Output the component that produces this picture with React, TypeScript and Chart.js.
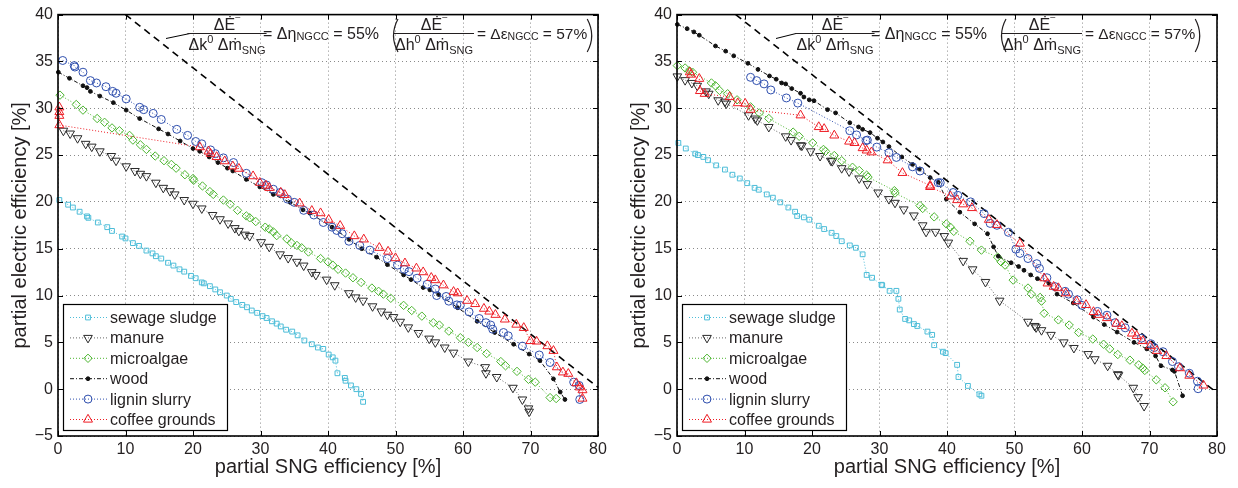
import React, { useEffect, useRef } from 'react';
import { Chart, registerables } from 'chart.js';
import { drawPoint } from 'chart.js/helpers';

Chart.register(...registerables);

const FONT = '"Liberation Sans", Arial, Helvetica, sans-serif';
const TEXT = '#231f20';

// ---------------- axis ----------------
const X_MIN = 0, X_MAX = 80, X_STEP = 10;
const Y_MIN = -5, Y_MAX = 40, Y_STEP = 5;
const X_TITLE = 'partial SNG efficiency [%]';
const Y_TITLE = 'partial electric efficiency [%]';
const SERIES_LABELS = ['sewage sludge', 'manure', 'microalgae', 'wood', 'lignin slurry', 'coffee grounds'];

// ---------------- left panel data ----------------
const L_SEWAGE_X = [0.2,1.5,2.2,3.2,4.3,4.5,5.9,7.3,8.0,9.5,10.0,11.1,12.0,13.1,14.0,14.5,15.3,16.3,17.1,18.0,18.7,19.7,20.4,21.3,21.6,22.5,23.3,24.0,25.0,25.6,26.4,27.3,28.0,28.7,29.5,30.3,30.9,31.7,32.4,33.0,33.8,34.7,35.5,36.5,37.6,38.5,39.3,40.1,40.7,41.1,41.4,42.5,42.6,43.4,44.2,44.9,45.2];
const L_SEWAGE_Y = [20.2,19.7,19.4,18.95,18.45,18.3,17.8,17.3,16.9,16.3,16.1,15.6,15.3,14.8,14.5,14.2,13.95,13.5,13.2,12.8,12.55,12.1,11.85,11.4,11.3,11.0,10.65,10.35,10.0,9.65,9.3,9.0,8.75,8.4,8.15,7.8,7.6,7.25,7.0,6.7,6.35,6.15,5.75,5.2,4.8,4.45,4.3,3.7,3.4,3.05,1.7,1.2,0.9,0.4,0.0,-0.5,-1.35];
const L_MANURE_X = [0.8,1.8,2.9,4.1,5.0,6.2,7.9,8.6,10.1,11.4,12.2,13.1,14.5,15.6,16.6,17.3,18.7,20.0,21.3,22.9,24.0,25.2,26.2,26.8,27.7,28.4,30.1,31.3,32.9,34.1,35.4,36.4,37.6,38.2,39.8,41.0,43.1,44.1,45.2,46.6,47.9,48.8,49.7,50.7,51.9,53.4,55.0,55.9,57.3,58.6,60.8,63.3,63.4,65.0,67.4,68.8,69.7,69.8];
const L_MANURE_Y = [27.6,27.3,26.8,26.2,25.9,25.4,24.9,24.4,23.8,23.3,23.0,22.75,22.05,21.5,21.15,20.8,20.2,19.8,19.3,18.6,18.15,17.7,17.2,16.9,16.5,16.35,15.7,15.2,14.4,14.0,13.6,13.2,12.5,12.2,11.7,11.1,10.25,9.8,9.45,8.85,8.3,7.95,7.7,7.2,6.6,6.0,5.4,5.0,4.45,3.9,2.95,2.35,1.7,1.3,0.15,-1.1,-2.05,-2.4];
const L_ALGAE_X = [0.3,2.7,3.7,5.8,6.9,8.0,9.1,10.6,11.1,12.2,13.1,14.4,15.7,16.8,17.5,18.8,20.0,20.1,21.4,22.5,23.0,24.5,25.5,26.6,27.9,28.4,29.3,30.7,31.3,31.9,32.4,33.9,34.6,35.4,36.1,37.1,38.9,40.0,40.7,41.5,42.6,43.7,44.9,46.5,47.5,48.2,49.3,51.2,52.4,53.9,55.6,56.5,57.9,59.6,60.8,62.1,63.5,65.6,66.3,68.0,69.7,70.7,72.9,73.8];
const L_ALGAE_Y = [31.4,30.4,29.8,28.9,28.5,27.9,27.6,27.1,26.6,26.1,25.6,24.9,24.4,24.0,23.6,22.9,22.5,22.3,21.7,21.1,20.8,20.2,19.75,19.1,18.5,18.3,17.9,17.3,17.1,16.8,16.4,16.05,15.6,15.35,15.1,14.65,13.95,13.6,13.25,12.8,12.4,11.9,11.4,10.8,10.45,10.15,9.7,8.95,8.4,7.8,7.1,6.85,6.2,5.5,5.0,4.45,3.8,2.95,2.5,1.9,1.05,0.75,-0.9,-1.0];
const L_WOOD_X = [0.05,1.7,3.7,4.3,4.8,6.2,8.2,10.1,12.1,14.9,16.3,18.1,20.0,21.0,22.4,23.7,25.1,25.9,27.9,29.9,31.9,34.4,36.3,37.3,40.6,43.1,45.0,47.2,48.8,51.2,52.3,54.1,55.1,56.4,59.2,62.1,64.7,67.5,69.8,71.4,73.4,74.4,75.1];
const L_WOOD_Y = [33.85,33.2,32.4,32.2,31.8,31.3,30.6,29.8,28.9,27.8,27.25,26.5,25.7,25.4,24.8,24.2,23.6,23.3,22.4,21.6,20.8,19.95,19.15,18.8,17.3,16.0,15.0,14.1,13.3,12.2,11.7,10.85,10.6,10.1,8.7,7.25,6.05,4.8,3.75,3.05,1.1,-0.3,-1.1];
const L_LIGNIN_X = [0.7,2.4,2.5,3.7,4.8,5.7,7.1,8.1,8.6,10.1,12.1,12.7,14.1,15.3,17.6,19.2,20.4,21.3,22.6,23.3,24.5,26.0,27.9,30.2,30.9,31.9,32.9,34.0,35.0,36.4,37.9,39.3,40.6,41.3,42.1,43.1,44.7,46.2,48.8,50.3,51.3,52.0,53.2,54.7,55.9,56.1,57.5,57.9,59.1,59.6,60.9,62.4,63.4,64.1,64.4,66.0,66.7,68.8,71.3,72.9,76.4,77.2,77.3];
const L_LIGNIN_Y = [35.1,34.55,34.4,33.85,32.95,32.7,32.3,31.8,31.6,31.0,30.1,29.85,29.45,28.8,27.75,27.1,26.45,26.2,25.55,25.15,24.7,24.2,23.05,22.05,21.8,21.35,21.0,20.3,19.95,19.1,18.6,17.8,17.3,16.95,16.6,15.8,15.35,14.85,13.95,13.25,12.8,12.55,11.85,11.2,10.7,10.0,9.9,9.4,9.0,8.95,8.25,7.55,7.1,6.85,6.4,6.05,5.7,4.6,3.65,2.85,0.75,0.4,-1.1];
const L_COFFEE_X = [0.2,0.2,0.2,0.2,21.0,22.3,22.6,23.5,24.7,25.9,26.8,28.9,29.9,30.8,31.3,33.0,33.6,35.8,37.6,38.9,40.1,41.8,43.9,45.3,47.6,48.9,50.0,51.4,53.1,54.1,55.3,55.9,57.1,58.6,59.2,60.6,61.8,63.1,63.9,64.8,66.2,67.9,69.0,70.0,70.9,72.5,73.4,73.9,74.8,75.6,76.8,77.3,77.7,77.7];
const L_COFFEE_Y = [30.1,29.6,29.2,28.2,25.85,25.4,25.15,24.8,24.35,23.8,23.55,22.75,22.05,21.75,21.5,21.0,20.75,19.85,19.05,18.8,18.1,17.45,16.35,16.0,15.1,14.7,14.0,13.45,12.9,12.5,11.9,11.65,11.1,10.4,10.25,9.45,9.1,8.6,8.3,7.95,7.45,6.9,6.55,5.15,5.1,4.6,4.1,2.35,1.8,1.65,0.65,0.2,-0.1,-1.0];
const L_REF_X = [10, 80];
const L_REF_Y = [40, 0.2];

// ---------------- right panel data ----------------
const R_SEWAGE_X = [0.2,1.3,2.7,3.1,3.9,4.6,5.8,7.1,8.2,9.3,10.4,11.5,12.1,13.3,14.2,15.3,16.5,17.5,17.8,18.8,19.6,21.0,21.8,22.9,23.6,24.4,25.6,26.5,27.5,28.1,28.9,30.3,30.4,31.5,32.5,32.8,33.0,33.8,34.4,35.1,35.6,37.1,37.8,38.1,39.4,39.8,41.5,41.7,43.1,44.8,45.1];
const R_SEWAGE_Y = [26.3,25.7,25.15,25.0,24.8,24.45,23.9,23.45,22.9,22.5,22.0,21.5,21.3,20.8,20.45,19.95,19.4,18.95,18.5,18.35,18.1,17.45,17.1,16.7,16.35,15.8,15.35,15.1,14.4,12.2,11.9,11.15,11.1,10.5,10.5,9.65,8.5,7.5,7.35,6.95,6.75,6.15,5.8,4.7,4.0,3.85,2.6,1.3,0.35,-0.55,-0.7];
const R_MANURE_X = [0.05,1.2,2.2,3.0,4.3,4.7,6.1,7.1,7.3,10.6,11.6,11.9,13.6,16.1,16.9,18.3,18.5,19.8,21.2,22.8,23.0,24.4,25.5,27.0,28.2,29.8,31.4,32.3,33.6,35.1,36.4,36.9,38.3,39.6,40.2,42.4,43.8,45.7,47.8,52.0,53.0,53.2,54.0,55.4,57.3,58.8,60.9,61.9,63.8,65.3,65.4,67.6,68.3,69.2];
const R_MANURE_Y = [33.4,33.0,32.7,32.4,31.8,31.55,30.85,30.7,30.5,29.25,28.9,28.7,28.0,27.0,26.6,26.05,26.0,25.4,24.9,24.4,24.35,23.6,23.25,22.5,21.9,21.0,20.3,19.9,19.2,18.55,17.5,16.8,16.8,16.35,15.65,13.7,12.8,11.45,9.45,7.2,6.75,6.6,6.3,5.8,5.0,4.4,3.75,3.2,2.5,1.6,1.5,0.15,-0.85,-1.8];
const R_ALGAE_X = [0.05,1.2,1.8,2.3,5.1,5.7,6.3,7.5,8.9,10.9,12.2,13.6,17.2,18.1,20.1,21.7,22.0,23.3,24.4,26.0,27.0,28.1,28.3,32.2,32.3,36.0,36.4,38.1,39.9,40.5,41.0,43.4,45.1,47.5,48.0,48.6,49.8,52.0,52.5,53.8,54.0,54.4,56.5,58.1,59.5,61.6,63.2,64.1,65.3,67.1,68.4,69.0,69.3,71.0,72.3,73.5];
const R_ALGAE_Y = [34.55,34.3,34.0,33.85,32.7,32.4,31.9,31.55,30.9,30.15,29.5,28.9,27.45,27.0,26.3,25.6,25.4,24.95,24.4,23.7,23.35,22.85,22.65,21.2,20.95,19.6,19.3,18.4,17.65,17.3,16.85,15.8,14.85,14.1,13.6,13.25,11.65,10.8,10.15,9.8,9.4,8.1,7.4,6.85,6.05,5.35,4.8,4.3,3.7,3.1,2.6,2.25,2.0,1.0,0.15,-1.35];
const R_WOOD_X = [0.05,1.5,2.5,3.3,5.7,7.2,8.4,10.5,12.0,13.7,14.7,15.5,16.1,17.0,18.3,18.8,19.6,20.3,22.3,23.5,25.6,26.9,27.5,28.6,29.7,30.5,31.4,33.3,34.9,35.9,37.5,38.7,39.9,41.9,44.1,46.0,46.9,47.6,49.5,50.6,51.4,52.4,53.4,55.1,56.3,58.7,61.7,63.3,65.2,67.7,69.6,70.9,71.7,73.4,73.7,74.9];
const R_WOOD_Y = [38.95,38.5,38.15,37.8,36.65,36.1,35.6,34.8,34.15,33.45,33.1,32.7,32.6,32.1,31.6,31.2,30.9,30.8,29.85,29.5,28.45,28.0,27.75,27.4,26.8,26.4,25.9,24.8,24.0,23.5,22.6,22.1,20.3,18.9,17.65,16.6,15.2,14.2,13.5,13.1,12.7,12.2,11.8,11.3,10.15,9.2,7.7,6.9,6.1,5.0,4.3,3.55,2.5,2.05,1.9,-0.7];
const R_LIGNIN_X = [10.9,11.8,12.9,13.9,16.2,17.9,25.6,26.6,28.0,28.2,29.6,31.4,32.5,34.9,36.0,38.7,39.0,40.9,41.6,43.5,45.5,46.4,47.4,49.1,50.2,50.8,52.0,53.3,53.7,54.8,56.0,57.5,58.0,59.3,60.0,62.3,63.7,64.9,66.4,68.8,70.2,70.7,72.0,73.4,74.3,75.9,77.1,77.2];
const R_LIGNIN_Y = [33.3,32.95,32.6,31.95,31.1,30.55,27.6,27.15,26.55,26.6,25.85,25.25,24.75,23.75,23.3,22.05,22.05,21.0,20.7,20.0,18.75,17.7,17.5,16.75,14.95,14.5,13.95,13.4,12.9,11.9,10.95,10.45,10.15,9.55,8.95,8.3,7.9,7.1,6.55,5.45,4.85,4.45,4.0,2.95,2.4,1.7,0.85,0.05];
const R_COFFEE_X = [1.9,2.1,3.3,3.4,4.1,7.8,9.0,10.1,10.9,18.3,21.0,21.8,23.3,25.5,26.3,27.5,28.1,28.8,31.2,33.4,37.5,37.5,40.5,41.5,42.4,43.7,46.2,47.4,50.8,54.4,54.9,55.8,56.5,57.6,59.2,60.6,61.7,62.4,63.7,65.1,65.9,67.4,68.1,69.0,70.1,71.1,72.5,74.5,75.9,78.0];
const R_COFFEE_Y = [33.85,33.6,33.15,31.85,31.55,31.2,30.55,30.5,29.85,29.25,28.0,27.8,27.1,26.45,26.3,25.75,25.5,25.3,24.45,23.1,21.75,21.6,20.6,20.2,19.75,19.35,18.1,17.55,15.55,11.85,11.3,10.95,10.8,10.25,9.4,9.0,8.25,7.95,7.6,7.0,6.75,5.95,5.7,5.15,4.6,4.1,3.55,2.25,1.45,0.4];
const R_REF_X = [8.7, 80];
const R_REF_Y = [40, -0.4];

// ---------------- styles ----------------
type Style = { color: string; lineColor: string; pointStyle: any; radius: number; rotation: number; filled: boolean; dash: number[] };
const STYLES: Style[] = [
  { color: '#4dbdd8', lineColor: '#4dbdd8', pointStyle: 'rect', radius: 3.4, rotation: 0, filled: false, dash: [1, 2] },
  { color: '#2a2a2a', lineColor: '#666666', pointStyle: 'triangle', radius: 5, rotation: 180, filled: false, dash: [1, 2] },
  { color: '#4cb530', lineColor: '#4cb530', pointStyle: 'rectRot', radius: 4.2, rotation: 0, filled: false, dash: [1, 2] },
  { color: '#111111', lineColor: '#111111', pointStyle: 'circle', radius: 1.9, rotation: 0, filled: true, dash: [4, 2, 1, 2] },
  { color: '#2f4fae', lineColor: '#2f4fae', pointStyle: 'circle', radius: 4, rotation: 0, filled: false, dash: [1, 2] },
  { color: '#ee1c24', lineColor: '#ee1c24', pointStyle: 'triangle', radius: 5.2, rotation: 0, filled: false, dash: [1, 2] },
];

type Seg = { t: string; s: number; dy?: number };
const segW = (ctx: CanvasRenderingContext2D, segs: Seg[]) => {
  let w = 0;
  for (const g of segs) { ctx.font = `${g.s}px ${FONT}`; w += ctx.measureText(g.t).width; }
  return w;
};
const drawSegs = (ctx: CanvasRenderingContext2D, x: number, y: number, segs: Seg[]) => {
  for (const g of segs) {
    ctx.font = `${g.s}px ${FONT}`;
    ctx.fillText(g.t, x, y + (g.dy || 0));
    x += ctx.measureText(g.t).width;
  }
  return x;
};

const NUM: Seg[] = [{ t: 'ΔĖ', s: 16 }, { t: '–', s: 9, dy: -10 }];
const DEN1: Seg[] = [{ t: 'Δk', s: 16 }, { t: '0', s: 11, dy: -7 }, { t: ' Δṁ', s: 16 }, { t: 'SNG', s: 11, dy: 4 }];
const DEN2: Seg[] = [{ t: 'Δh', s: 16 }, { t: '0', s: 11, dy: -7 }, { t: ' Δṁ', s: 16 }, { t: 'SNG', s: 11, dy: 4 }];
const GRP1: Seg[] = [{ t: '= Δη', s: 16 }, { t: 'NGCC', s: 11, dy: 1 }, { t: ' = 55%', s: 16 }];
const GRP2: Seg[] = [{ t: '= Δε', s: 15.5 }, { t: 'NGCC', s: 10.5, dy: 1 }, { t: ' = 57%', s: 15.5 }];

const framePlugin = {
  id: 'frame',
  afterDraw(chart: any, _args: any, opts: any) {
    const { ctx, chartArea: a, scales } = chart;
    const xs = scales.x, ys = scales.y;
    ctx.save();
    const line = (x1: number, y1: number, x2: number, y2: number) => {
      ctx.beginPath(); ctx.moveTo(x1, y1); ctx.lineTo(x2, y2); ctx.stroke();
    };
    // inward ticks
    ctx.strokeStyle = '#000'; ctx.lineWidth = 1; ctx.setLineDash([]);
    for (const t of xs.ticks) {
      const px = Math.round(xs.getPixelForValue(t.value)) + 0.5;
      line(px, a.bottom, px, a.bottom - 5); line(px, a.top, px, a.top + 5);
    }
    for (const t of ys.ticks) {
      const py = Math.round(ys.getPixelForValue(t.value)) + 0.5;
      line(a.left, py, a.left + 5, py); line(a.right, py, a.right - 5, py);
    }
    // box
    ctx.lineWidth = 1.6;
    ctx.strokeRect(a.left, a.top, a.right - a.left, a.bottom - a.top);

    // legend
    const lx = 63.5, ly = 304.5, lw = 164, lh = 126;
    ctx.fillStyle = '#fff';
    ctx.fillRect(lx, ly, lw, lh);
    ctx.lineWidth = 1.2; ctx.strokeStyle = '#000';
    ctx.strokeRect(lx, ly, lw, lh);
    SERIES_LABELS.forEach((label, i) => {
      const st = STYLES[i];
      const y = 317.5 + i * 20.4;
      ctx.setLineDash(st.dash); ctx.strokeStyle = st.lineColor; ctx.lineWidth = 1;
      line(70, y, 107, y);
      ctx.setLineDash([]);
      ctx.strokeStyle = st.color;
      ctx.fillStyle = st.filled ? st.color : 'rgba(0,0,0,0)';
      drawPoint(ctx, { pointStyle: st.pointStyle, rotation: st.rotation, radius: st.radius, borderWidth: 1 } as any, 88, y);
      ctx.fillStyle = TEXT; ctx.font = `16px ${FONT}`; ctx.textBaseline = 'middle'; ctx.textAlign = 'left';
      ctx.fillText(label, 110, y + 1);
    });

    // annotation
    const sh = opts.shift || 0;
    const ld = opts.leader;
    ctx.strokeStyle = '#000'; ctx.lineWidth = 1;
    line(ld[0], ld[1], ld[2], ld[3]);
    ctx.fillStyle = TEXT; ctx.textBaseline = 'alphabetic'; ctx.textAlign = 'left';
    const frac = (cx: number, den: Seg[]) => {
      const wn = segW(ctx, NUM), wd = segW(ctx, den);
      drawSegs(ctx, cx - wn / 2, 30, NUM);
      drawSegs(ctx, cx - wd / 2, 50, den);
      const bw = Math.max(wn, wd) + 2;
      ctx.lineWidth = 1; ctx.strokeStyle = TEXT;
      line(cx - bw / 2, 33.5, cx + bw / 2, 33.5);
    };
    frac(227 + sh, DEN1);
    drawSegs(ctx, 263 + sh, 38.5, GRP1);
    // parens
    ctx.lineWidth = 1.2; ctx.strokeStyle = TEXT;
    const p1 = 392 + sh;
    ctx.beginPath(); ctx.moveTo(p1 + 6, 19); ctx.quadraticCurveTo(p1 - 3, 35.5, p1 + 6, 52); ctx.stroke();
    frac(434 + sh, DEN2);
    const end = drawSegs(ctx, 477 + sh, 38.5, GRP2);
    const p2 = end + 6;
    ctx.lineWidth = 1.2; ctx.strokeStyle = TEXT;
    ctx.beginPath(); ctx.moveTo(p2 - 6, 19); ctx.quadraticCurveTo(p2 + 3, 35.5, p2 - 6, 52); ctx.stroke();
    ctx.restore();
  },
};

type Panel = { xs: number[][]; ys: number[][]; refX: number[]; refY: number[]; shift: number; leader: number[] };

const LEFT: Panel = {
  xs: [L_SEWAGE_X, L_MANURE_X, L_ALGAE_X, L_WOOD_X, L_LIGNIN_X, L_COFFEE_X],
  ys: [L_SEWAGE_Y, L_MANURE_Y, L_ALGAE_Y, L_WOOD_Y, L_LIGNIN_Y, L_COFFEE_Y],
  refX: L_REF_X, refY: L_REF_Y, shift: 0, leader: [166, 38.5, 190, 33.5],
};
const RIGHT: Panel = {
  xs: [R_SEWAGE_X, R_MANURE_X, R_ALGAE_X, R_WOOD_X, R_LIGNIN_X, R_COFFEE_X],
  ys: [R_SEWAGE_Y, R_MANURE_Y, R_ALGAE_Y, R_WOOD_Y, R_LIGNIN_Y, R_COFFEE_Y],
  refX: R_REF_X, refY: R_REF_Y, shift: -11, leader: [157, 38.5, 177, 33.5],
};

const pts = (xs: number[], ys: number[]) => {
  const n = Math.min(xs.length, ys.length);
  const out: { x: number; y: number }[] = [];
  for (let i = 0; i < n; i++) out.push({ x: xs[i], y: ys[i] });
  return out;
};

const fmtTick = (v: any) => String(v).replace('-', '\u2212');

function ChartPanel({ panel }: { panel: Panel }) {
  const ref = useRef<HTMLCanvasElement | null>(null);
  useEffect(() => {
    if (!ref.current) return;
    const datasets: any[] = SERIES_LABELS.map((label, i) => {
      const st = STYLES[i];
      return {
        label,
        data: pts(panel.xs[i], panel.ys[i]),
        showLine: true,
        borderColor: st.lineColor,
        borderWidth: 1,
        borderDash: st.dash,
        pointStyle: st.pointStyle,
        pointRadius: st.radius,
        pointHoverRadius: st.radius,
        pointRotation: st.rotation,
        pointBorderColor: st.color,
        pointBackgroundColor: st.filled ? st.color : 'rgba(0,0,0,0)',
        pointBorderWidth: 1,
        clip: false,
        order: 6 - i,
      };
    });
    datasets.push({
      label: 'ref',
      data: pts(panel.refX, panel.refY),
      showLine: true,
      borderColor: '#000',
      borderWidth: 1.6,
      borderDash: [7, 5],
      pointRadius: 0,
      pointHoverRadius: 0,
      clip: false,
      order: 10,
    });
    const chart = new Chart(ref.current, {
      type: 'scatter',
      data: { datasets },
      options: {
        animation: false,
        responsive: false,
        events: [],
        layout: { padding: { top: 10, right: 21, left: 0, bottom: 0 } },
        plugins: {
          legend: { display: false },
          tooltip: { enabled: false },
          frame: { shift: panel.shift, leader: panel.leader },
        } as any,
        scales: {
          x: {
            type: 'linear', min: X_MIN, max: X_MAX,
            ticks: { stepSize: X_STEP, color: TEXT, font: { family: FONT, size: 16 }, padding: 4, maxRotation: 0, callback: fmtTick },
            grid: { color: '#8a8a8a', lineWidth: 1, drawTicks: false },
            border: { display: false, dash: [1, 3] },
            title: { display: true, text: X_TITLE, color: TEXT, font: { family: FONT, size: 20 }, padding: { top: 0, bottom: 9 } },
            afterFit: (s: any) => { s.height = 52; },
          },
          y: {
            type: 'linear', min: Y_MIN, max: Y_MAX,
            ticks: { stepSize: Y_STEP, color: TEXT, font: { family: FONT, size: 16 }, padding: 5, callback: fmtTick },
            grid: { color: '#8a8a8a', lineWidth: 1, drawTicks: false },
            border: { display: false, dash: [1, 3] },
            title: { display: true, text: Y_TITLE, color: TEXT, font: { family: FONT, size: 20 }, padding: { top: 8, bottom: 0 } },
            afterFit: (s: any) => { s.width = 58; },
          },
        } as any,
      },
      plugins: [framePlugin as any],
    });
    return () => chart.destroy();
  }, [panel]);
  return <canvas ref={ref} width={619} height={488} style={{ display: 'block', width: 619, height: 488 }} />;
}

export default function App() {
  return (
    <div style={{ position: 'absolute', left: 0, top: 0, width: 1238, height: 488, display: 'flex', background: '#fff' }}>
      <ChartPanel panel={LEFT} />
      <ChartPanel panel={RIGHT} />
    </div>
  );
}
